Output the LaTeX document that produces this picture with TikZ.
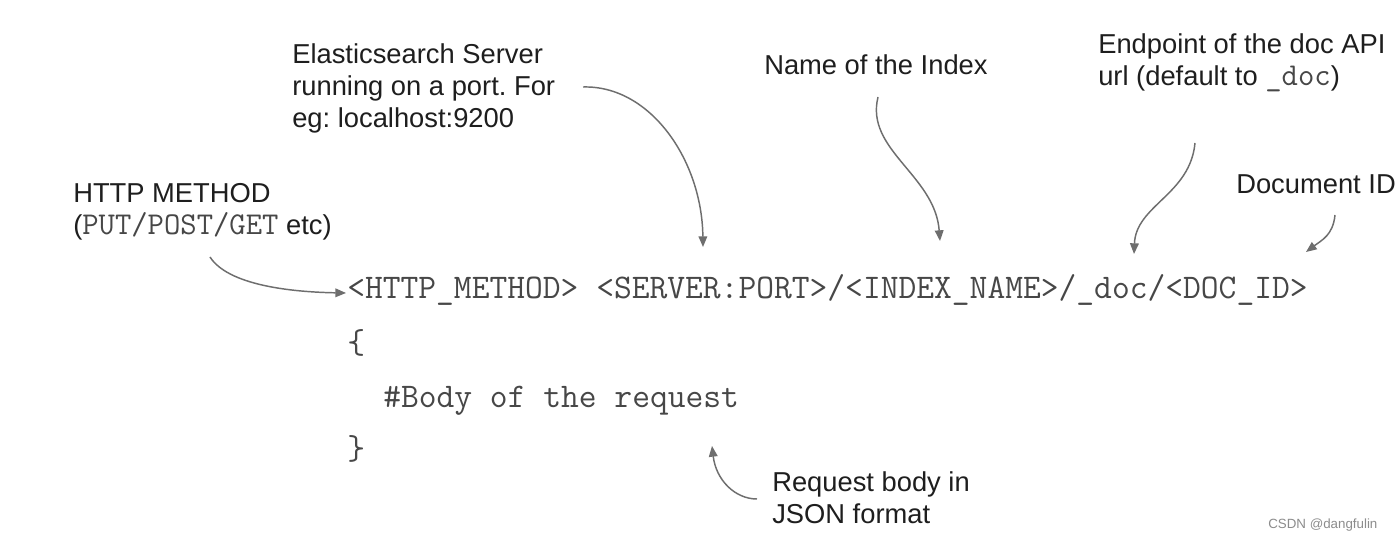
\documentclass[tikz,border=0pt]{standalone}
\usepackage{fontspec}
\setmainfont{Liberation Sans}
\usetikzlibrary{arrows.meta}
\definecolor{arr}{HTML}{6E6E6E}
\definecolor{codec}{HTML}{474747}
\definecolor{lblc}{HTML}{1E1E1E}
\newcommand\cdtxt[1]{{\fontsize{23.8}{24}\selectfont\ttfamily\color{codec}#1}}
\frenchspacing
\begin{document}
\begin{tikzpicture}[x=0.75pt,y=-0.75pt,
  lbl/.style={inner sep=0,anchor=base west,align=left,font=\fontsize{20.5}{24}\selectfont,text=lblc},
  codetxt/.style={inner sep=0,anchor=base west,font=\fontsize{25.9}{26}\selectfont\ttfamily,text=codec},
  conn/.style={draw=arr,line width=1.1pt,-{Triangle[length=8pt,width=6.5pt]}}]
\useasboundingbox[fill=white] (0,0) rectangle (1399,541);

% labels (anchor = baseline of the last line)
\node[lbl] (http) at (73,235) {HTTP METHOD\\(\cdtxt{PUT/POST/GET} etc)};
\node[lbl] (es) at (292,128) {Elasticsearch Server\\running on a port. For\\eg: localhost:9200};
\node[lbl] (idx) at (764,75) {Name of the Index};
\node[lbl] (ep) at (1098,86) {Endpoint of the doc API\\url (default to \cdtxt{\_doc})};
\node[lbl] (did) at (1236,194) {Document ID};
\node[lbl] (rb) at (772,523) {Request body in\\JSON format};

% code
\node[codetxt] (line1) at (347,299) {<HTTP\_METHOD> <SERVER:PORT>/<INDEX\_NAME>/\_doc/<DOC\_ID>};
\node[codetxt] (ob) at (347,354) {\{};
\node[codetxt] (body) at (383,407) {\#Body of the request};
\node[codetxt] (cb) at (347,459) {\}};

% watermark
\node[inner sep=0,anchor=base west,font=\fontsize{10}{12}\selectfont,text=black!45] (wm) at (1268,528) {CSDN @dangfulin};

% connector endpoints
\coordinate (a1s) at (210,257); \coordinate (a1e) at (346,293);
\coordinate (a2s) at (583,87);  \coordinate (a2e) at (703,247);
\coordinate (a3s) at (878,97);  \coordinate (a3e) at (940,241);
\coordinate (a4s) at (1195,143); \coordinate (a4e) at (1134,254);
\coordinate (a5s) at (1335,215); \coordinate (a5e) at (1306,252);
\coordinate (a6s) at (757,499); \coordinate (a6e) at (712,446);

\draw[conn] (a1s) .. controls (228,285) and (290,292) .. (a1e);
\draw[conn] (a2s) .. controls (650,85) and (702,160) .. (a2e);
\draw[conn] (a3s) .. controls (865,150) and (935,175) .. (a3e);
\draw[conn] (a4s) .. controls (1190,195) and (1136,205) .. (a4e);
\draw[conn] (a5s) .. controls (1333,235) and (1322,240) .. (a5e);
\draw[conn] (a6s) .. controls (735,499) and (716,480) .. (a6e);
\end{tikzpicture}
\end{document}
